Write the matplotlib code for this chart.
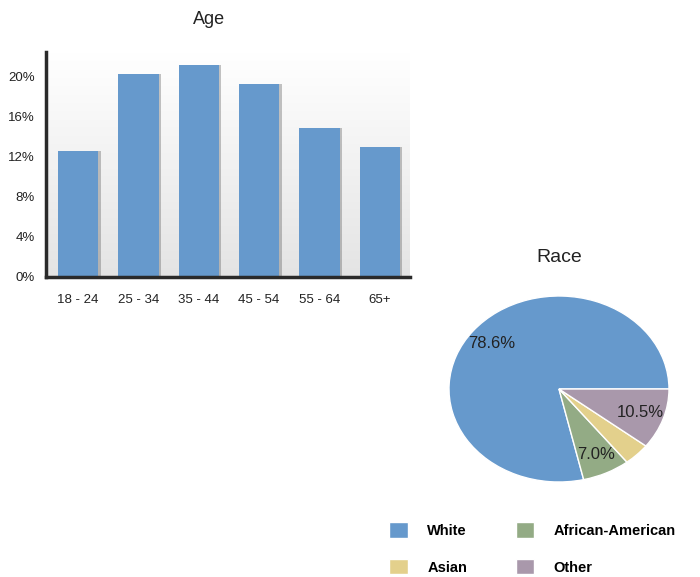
import matplotlib
matplotlib.use("Agg")
import matplotlib.pyplot as plt
import numpy as np

age_groups = ["18 - 24", "25 - 34", "35 - 44", "45 - 54", "55 - 64", "65+"]
age_share = [12.5, 20.2, 21.1, 19.2, 14.8, 12.9]
y_ticks = [0, 4, 8, 12, 16, 20]

race_labels = ["White", "African-American", "Asian", "Other"]
race_share = [78.6, 7.0, 3.9, 10.5]
race_colors = ["#6699cc", "#93ab85", "#e3d08c", "#a998ab"]

narrow = ["Liberation Sans Narrow", "Liberation Sans", "DejaVu Sans"]
plt.rcParams["font.family"] = ["Liberation Sans", "DejaVu Sans"]

fig = plt.figure(figsize=(7, 5.77), dpi=100)

# age bar chart
ax = fig.add_axes([46 / 700, 300 / 577, 364 / 700, 225 / 577])
grad = np.linspace(1.0, 0.0, 100).reshape(-1, 1)
ax.imshow(grad, cmap=matplotlib.colors.LinearSegmentedColormap.from_list("bg", ["#e4e4e4", "#ffffff"]),
          extent=[0, 1, 0, 1], transform=ax.transAxes, aspect="auto", zorder=0)
x = np.arange(len(age_groups))
ax.bar(x + 0.04, age_share, width=0.67, color="#555555", alpha=0.35, zorder=1)
ax.bar(x, age_share, width=0.67, color="#6699cc", zorder=2)
ax.set_xlim(-0.53, 5.5)
ax.set_ylim(0, 22.4)
ax.set_yticks(y_ticks)
ax.set_yticklabels([f"{t}%" for t in y_ticks], family=narrow, fontsize=9.5, color="#222222")
ax.set_xticks(x)
ax.set_xticklabels(age_groups, family=narrow, fontsize=9.5, color="#222222")
ax.tick_params(length=0, pad=8)
ax.tick_params(axis="x", pad=12)
for s in ["top", "right"]:
    ax.spines[s].set_visible(False)
for s in ["left", "bottom"]:
    ax.spines[s].set_linewidth(2.5)
    ax.spines[s].set_color("#2a2a2a")
fig.text(209 / 700, 1 - 20 / 577, "Age", ha="center", va="center", fontsize=13,
         family=narrow, color="#222222")

# race pie chart
pax = fig.add_axes([449 / 700, 95 / 577, 220 / 700, 186 / 577])
wedges, texts, autotexts = pax.pie(
    race_share, colors=race_colors, startangle=0, counterclock=True,
    autopct=lambda p: f"{p:.1f}%" if p > 5 else "", pctdistance=0.78,
    wedgeprops=dict(edgecolor="white", linewidth=1), normalize=True,
    textprops=dict(fontsize=12, color="#222222"))
pax.set_aspect("auto")
pax.set_xlim(-1, 1)
pax.set_ylim(-1, 1)
fig.text(559 / 700, 1 - 257 / 577, "Race", ha="center", va="center", fontsize=14,
         color="#222222")

# legend is filled column by column, so order the entries to read row by row
order = [0, 2, 1, 3]
fig.legend([wedges[i] for i in order], [race_labels[i] for i in order],
           loc="upper left", bbox_to_anchor=(382 / 700, 1 - 515 / 577),
           ncol=2, frameon=False, borderpad=0, handlelength=1.25, handleheight=1.25,
           handletextpad=1.35, labelspacing=1.45, columnspacing=3.35,
           prop=dict(weight="bold", size=10.5))

fig.savefig("out.png", dpi=100)
